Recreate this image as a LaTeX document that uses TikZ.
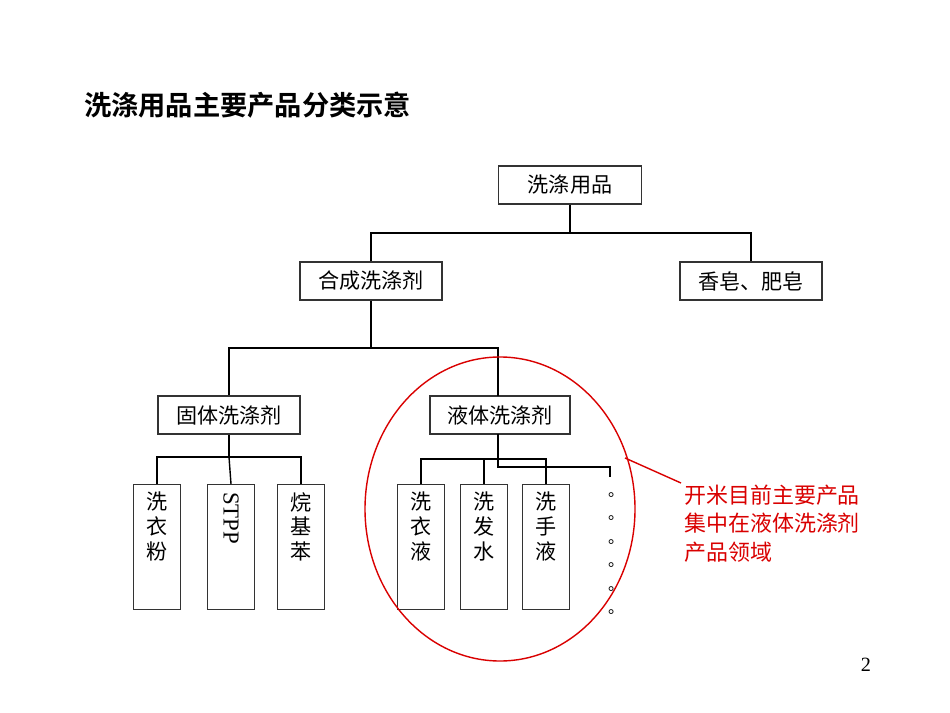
\documentclass[tikz,border=0pt]{standalone}
\usepackage{fontspec}
\setmainfont{Liberation Serif}
\newfontfamily\cjk{Noto Sans CJK SC}
\newfontfamily\cjkbold{Noto Sans CJK SC Bold}
\usetikzlibrary{positioning}

\newcommand{\topcol}[1]{\parbox[c][22mm][t]{8mm}{\centering #1}}

\tikzset{
  catbox/.style={draw=black!80, thick, minimum height=7.6mm, font=\cjk\fontsize{12}{13}\selectfont},
  tallbox/.style={draw=black!80, thick, minimum width=9.4mm, minimum height=25mm, anchor=north, font=\cjk\fontsize{12}{14}\selectfont, inner sep=0pt},
  link/.style={draw=black, thick},
  dotmark/.style={font=\cjk\fontsize{9}{10}\selectfont}
}

\begin{document}
\begin{tikzpicture}[x=0.2mm,y=-0.2mm]
    \useasboundingbox (0,0) rectangle (950,713);

    % title
    \node[anchor=west, font=\cjkbold\fontsize{15.5}{17}\selectfont] (title) at (78,105) {洗涤用品主要产品分类示意};

    % upper levels
    \node[catbox, minimum width=28.6mm] (top) at (570,185) {洗涤用品};
    \node[catbox, minimum width=28.4mm] (synth) at (371,281) {合成洗涤剂};
    \node[catbox, minimum width=28.4mm] (soap) at (751,281) {香皂、肥皂};
    \node[catbox, minimum width=28.4mm] (solid) at (229,415) {固体洗涤剂};
    \node[catbox, minimum width=28mm] (liquid) at (500,415) {液体洗涤剂};

    % products
    \node[tallbox] (pow) at (157,484) {\topcol{洗\\衣\\粉}};
    \node[tallbox, font=\fontsize{13}{14}\selectfont] (stpp) at (231,484) {\topcol{\rotatebox{-90}{STPP}}};
    \node[tallbox] (alk) at (301,484) {\topcol{烷\\基\\苯}};
    \node[tallbox] (laund) at (421,484) {\topcol{洗\\衣\\液}};
    \node[tallbox] (shamp) at (484,484) {\topcol{洗\\发\\水}};
    \node[tallbox] (hand) at (546,484) {\topcol{洗\\手\\液}};
    \foreach \k in {0,...,5} {
        \node[dotmark] (dot\k) at (616,495+23.5*\k) {。};
    }

    % connectors
    \coordinate (j1) at (570,233);
    \coordinate (j2) at (371,348);
    \coordinate (j3) at (229,457);
    \coordinate (j4) at (498,459);
    \coordinate (j5) at (498,467);
    \draw[link] (top.south) -- (j1);
    \draw[link] (synth.north) |- (j1) -| (soap.north);
    \draw[link] (synth.south) -- (j2);
    \draw[link] (solid.north) |- (j2) -| (498,396);
    \draw[link] (solid.south) -- (j3);
    \draw[link] (pow.north) |- (j3) -| (alk.north);
    \draw[link] (j3) -- (stpp.north);
    \draw[link] (498,434) -- (j5) -| (610,477);
    \draw[link] (laund.north) |- (j4) -| (hand.north);
    \draw[link] (j4 -| shamp.north) -- (shamp.north);

    % highlight
    \draw[red!85!black, thick] (500,509) ellipse (135 and 152);
    \coordinate (callout) at (681,483);
    \draw[red!85!black, thick] (625,458) -- (callout);
    \node[anchor=north west, text=red!85!black, align=left, font=\cjk\fontsize{12.5}{16}\selectfont] (note) at (678,479) {开米目前主要产品\\集中在液体洗涤剂\\产品领域};

    \node[font=\fontsize{11.5}{13}\selectfont] (page) at (866,665) {2};
\end{tikzpicture}
\end{document}
